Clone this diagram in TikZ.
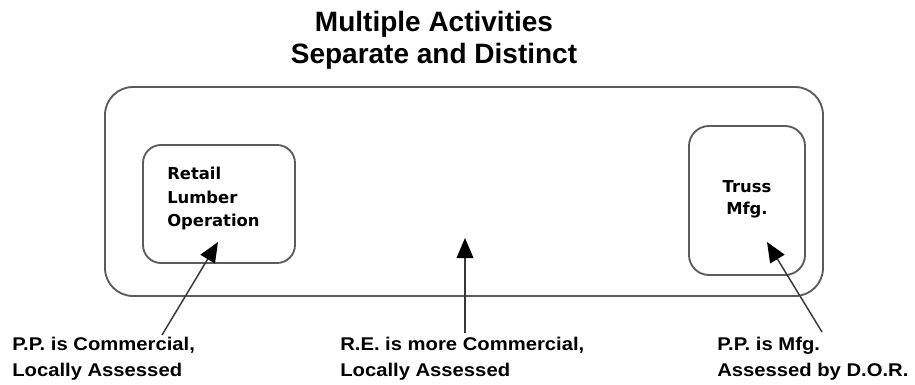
\documentclass[tikz,border=0pt]{standalone}
\usepackage{fontspec}
\setmainfont{Liberation Sans}
\newfontfamily\boxfont{DejaVu Sans}
\newfontfamily\labelfont{Liberation Sans}[FakeStretch=1.1]
\usetikzlibrary{arrows.meta,calc}
\definecolor{boxline}{HTML}{5C5C5C}
\definecolor{arrline}{HTML}{383838}
\tikzset{
  frame/.style={draw=boxline, line width=1.4pt, inner sep=0pt, outer sep=0pt},
  boxtext/.style={inner sep=0pt, font=\boxfont\bfseries\fontsize{12.3pt}{17.5pt}\selectfont},
  lbl/.style={inner sep=0pt, anchor=north west, align=left, font=\labelfont\bfseries\fontsize{13.8pt}{19.5pt}\selectfont},
  arr/.style={draw=arrline, line width=1.1pt, -{Triangle[width=12.5pt,length=15pt,color=black,fill=black]}},
}
\begin{document}
\begin{tikzpicture}[x=0.75pt,y=-0.75pt]
\useasboundingbox (0,0) rectangle (915,385);
% title
\node[inner sep=0pt, anchor=north, align=center, font=\bfseries\fontsize{21pt}{24pt}\selectfont] (title) at (434,11) {Multiple Activities\\Separate and Distinct};
% outer frame
\node[frame, rounded corners=21pt, minimum width=538.5pt, minimum height=156.75pt] (outer) at (464,191.5) {};
% left box
\node[frame, rounded corners=13.5pt, minimum width=114pt, minimum height=88.5pt] (retail) at (219,204) {};
\node[boxtext, anchor=north west, align=left] (retailtxt) at (167,167) {Retail\\Lumber\\Operation};
% right box
\node[frame, rounded corners=15pt, minimum width=87pt, minimum height=111.75pt] (truss) at (747,200.5) {};
\node[boxtext, align=center, font=\boxfont\bfseries\fontsize{12.3pt}{16.5pt}\selectfont] (trusstxt) at (747,199) {Truss\\Mfg.};
% bottom labels
\node[lbl] (pp1) at (12,337) {P.P. is Commercial,\\Locally Assessed};
\node[lbl] (re) at (340,337) {R.E. is more Commercial,\\Locally Assessed};
\node[lbl] (pp2) at (717,337) {P.P. is Mfg.\\Assessed by D.O.R.};
% arrow tips
\coordinate (tipA) at (218,242);
\coordinate (tipB) at (465,238);
\coordinate (tipC) at (767,242);
\draw[arr] ($(pp1.north west)+(150,-2)$) -- (tipA);
\draw[arr] ($(re.north west)+(125,-4)$) -- (tipB);
\draw[arr] ($(pp2.north west)+(105,-5)$) -- (tipC);
\end{tikzpicture}
\end{document}
